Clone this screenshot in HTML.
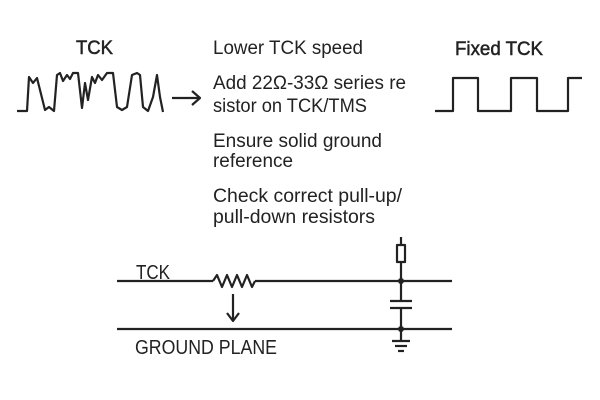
<!DOCTYPE html>
<html><head><meta charset="utf-8"><style>
html,body{margin:0;padding:0;background:#fff;}
svg{display:block;}
text{font-family:"Liberation Sans",sans-serif;fill:#222;}
</style></head><body>
<svg width="600" height="400" viewBox="0 0 600 400" xmlns="http://www.w3.org/2000/svg">
<g font-size="19">
<text x="76" y="54" textLength="37" lengthAdjust="spacingAndGlyphs" stroke="#222" stroke-width="0.5">TCK</text>
<text x="455" y="55" textLength="88" lengthAdjust="spacingAndGlyphs" stroke="#222" stroke-width="0.5">Fixed TCK</text>
<text x="213" y="54" textLength="150" lengthAdjust="spacingAndGlyphs">Lower TCK speed</text>
<text x="213" y="89" textLength="193" lengthAdjust="spacingAndGlyphs">Add 22Ω-33Ω series re</text>
<text x="213" y="112" textLength="154" lengthAdjust="spacingAndGlyphs">sistor on TCK/TMS</text>
<text x="213" y="147" textLength="169" lengthAdjust="spacingAndGlyphs">Ensure solid ground</text>
<text x="213" y="167" textLength="80" lengthAdjust="spacingAndGlyphs">reference</text>
<text x="213" y="202" textLength="189" lengthAdjust="spacingAndGlyphs">Check correct pull-up/</text>
<text x="213" y="223" textLength="162" lengthAdjust="spacingAndGlyphs">pull-down resistors</text>
</g>
<g font-size="20">
<text x="136" y="279" textLength="34" lengthAdjust="spacingAndGlyphs">TCK</text>
<text x="135" y="354" textLength="142" lengthAdjust="spacingAndGlyphs">GROUND PLANE</text>
</g>
<g fill="none" stroke="#222" stroke-width="2.2" stroke-linejoin="round">
<polyline points="17,111 27,111 29,77 33,83 37,78 42,98 45,110 49,107 54,111 57,75 60,73 63,81 67,75 70,79 73,73 78,73 82,108 85,83 88,100 92,77 95,83 98,75 102,80 107,73 113,73 117,107 122,110 127,107 132,75 137,73 140,75 143,107 148,111 153,97 157,75 160,97 163,112"/>
<line x1="172" y1="98" x2="200" y2="98"/>
<polyline points="192,91 200,98 192,105"/>
<polyline points="435,111 453,111 453,78 478,78 478,111 511,111 511,78 537,78 537,111 568,111 568,78 582,78"/>
<line x1="117" y1="281" x2="213" y2="281"/>
<polyline points="213,281 217,275 222,287 227,275 232,287 237,275 242,287 247,275 252,287 255,281"/>
<line x1="255" y1="281" x2="452" y2="281"/>
<line x1="117" y1="329" x2="452" y2="329"/>
<line x1="233" y1="294" x2="233" y2="320"/>
<polyline points="227,313 233,321 239,313"/>
<line x1="401" y1="237" x2="401" y2="245"/>
<rect x="397" y="245" width="8" height="17"/>
<line x1="401" y1="262" x2="401" y2="301"/>
<line x1="390" y1="301" x2="412" y2="301"/>
<line x1="390" y1="308" x2="412" y2="308"/>
<line x1="401" y1="308" x2="401" y2="341"/>
<line x1="392" y1="341" x2="410" y2="341"/>
<line x1="395" y1="346" x2="407" y2="346"/>
<line x1="398" y1="351" x2="404" y2="351"/>
</g>
<circle cx="401" cy="281" r="3" fill="#222"/>
<circle cx="401" cy="329" r="3" fill="#222"/>
</svg>
</body></html>
